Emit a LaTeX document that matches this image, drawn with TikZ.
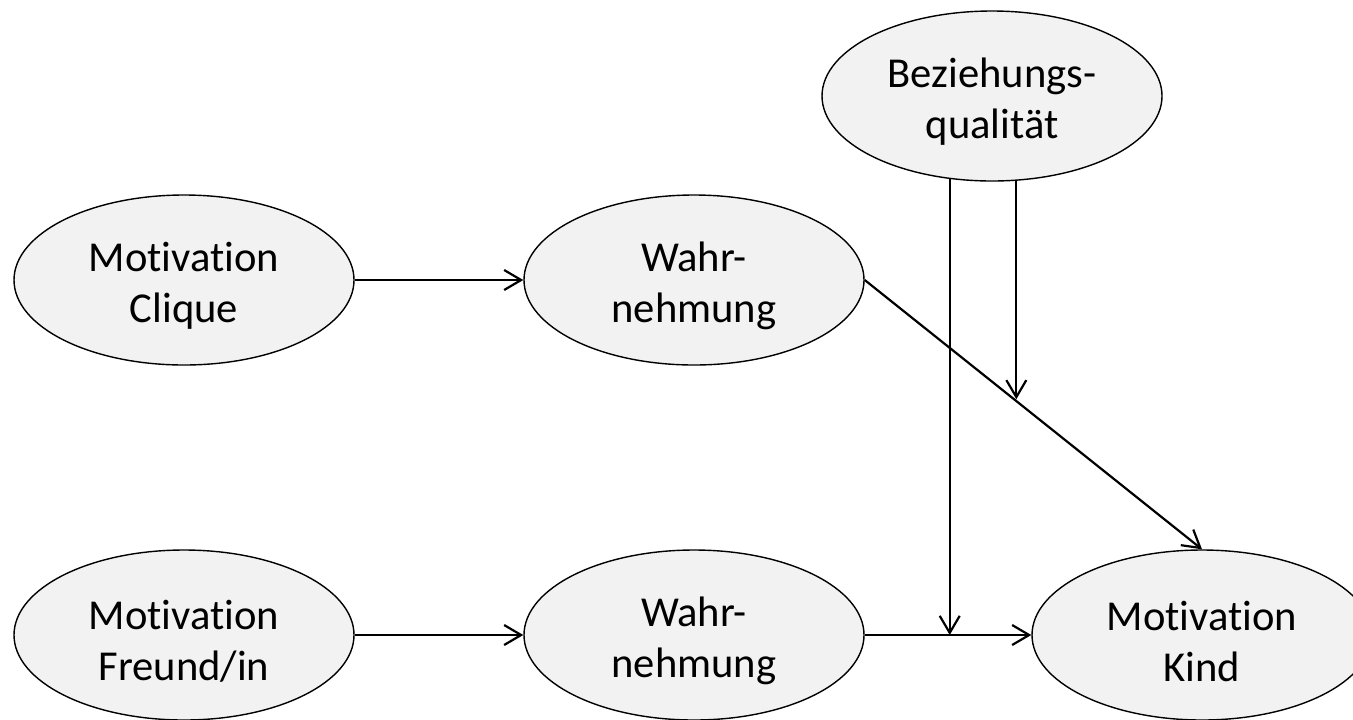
\documentclass[tikz,border=0pt]{standalone}
\usepackage{fontspec}
\setmainfont{Carlito}[Ligatures={NoCommon}]
\usetikzlibrary{arrows.meta,shapes.geometric}
\definecolor{nodefill}{HTML}{F2F2F2}
\begin{document}
\begin{tikzpicture}[x=0.5pt,y=-0.5pt,
  ell/.style={ellipse, draw=black, line width=0.7pt, fill=nodefill,
    minimum width=170pt, minimum height=85pt, inner sep=0pt},
  txt/.style={align=center, inner sep=0pt, yshift=-3pt,
    font=\fontsize{21.3}{25.5}\selectfont},
  arr/.style={line width=1.1pt, -{Straight Barb[length=8.5pt,width=10pt,line width=1.1pt]}}]
\useasboundingbox (0,0) rectangle (1353,719);
\node[ell, label={[txt]center:Motivation\\Clique}] (mc) at (184,280) {};
\node[ell, label={[txt]center:Wahr-\\nehmung}] (w1) at (694,280) {};
\node[ell, label={[txt]center:Beziehungs-\\qualität}] (bq) at (992,96) {};
\node[ell, label={[txt]center:Motivation\\Freund/in}] (mf) at (184,635) {};
\node[ell, label={[txt]center:Wahr-\\nehmung}] (w2) at (694,635) {};
\node[ell, label={[txt]center:Motivation\\Kind}] (mk) at (1202,635) {};
\path (w1.east) -- (mk.north) coordinate[pos=0.454] (j2);
\coordinate (j1) at (bq.243.3 |- w2.east);
\draw[arr] (mc.east) -- (w1.west);
\draw[arr] (mf.east) -- (w2.west);
\draw[arr] (w2.east) -- (mk.west);
\draw[arr] (w1.east) -- (mk.north);
\draw[arr] (bq.243.3) -- (j1);
\draw[arr, shorten >=1.5pt] (bq.286.9) -- (bq.286.9 |- j2);
\end{tikzpicture}
\end{document}
